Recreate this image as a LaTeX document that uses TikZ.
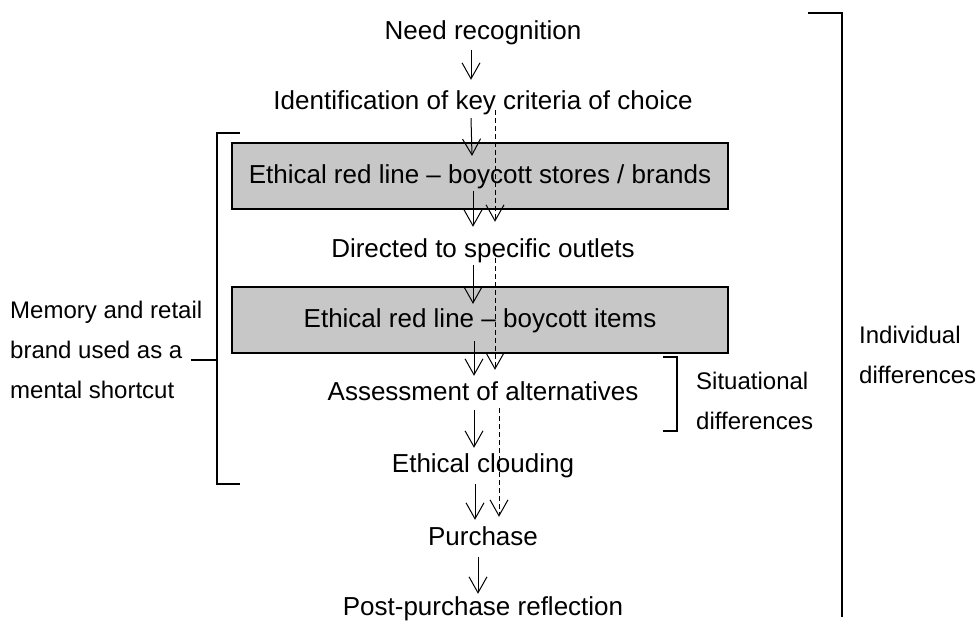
\documentclass[tikz,border=0pt]{standalone}
\usepackage{fontspec}
\setmainfont{Liberation Sans}
\usetikzlibrary{arrows.meta,calc}
\begin{document}
\begin{tikzpicture}[x=1pt,y=-1pt,
  main/.style={font=\fontsize{26}{31}\selectfont, inner sep=0pt, text height=19pt, text depth=5pt},
  side/.style={font=\fontsize{24}{29}\selectfont, inner sep=0pt, text height=17pt, text depth=5pt, anchor=west},
  boxn/.style={main, draw, line width=2.2pt, fill=black!22, minimum width=496pt, minimum height=66pt},
  arr/.style={line width=1pt, -{Straight Barb[length=16pt,width=18pt]}},
  darr/.style={arr, dash pattern=on 5pt off 3pt},
  brk/.style={line width=1.8pt}]
\useasboundingbox (0,0) rectangle (976,625);
% main column
\node[main] (need) at (483,32) {Need recognition};
\node[main] (ident) at (483,102) {Identification of key criteria of choice};
\node[boxn] (box1) at (480,176) {Ethical red line – boycott stores / brands};
\node[main] (dir) at (483,250) {Directed to specific outlets};
\node[boxn] (box2) at (480,320) {Ethical red line – boycott items};
\node[main] (assess) at (483,393) {Assessment of alternatives};
\node[main] (cloud) at (483,465) {Ethical clouding};
\node[main] (purch) at (483,538) {Purchase};
\node[main] (post) at (483,608) {Post-purchase reflection};
% solid arrows
\draw[arr] ($(need.south)+(-12,6)$) -- ($(ident.north)+(-12,-10)$);
\draw[arr] ($(ident.south)+(-12,4)$) -- ($(box1.north)+(-8,14)$);
\draw[arr] ($(box1.south)+(-7,-19)$) -- ($(dir.north)+(-10,-11)$);
\draw[arr] ($(dir.south)+(-10,3)$) -- ($(box2.north)+(-7,18)$);
\draw[arr] ($(box2.south)+(-6,-13)$) -- ($(assess.north)+(-9,-5)$);
\draw[arr] ($(assess.south)+(-9,5)$) -- ($(cloud.north)+(-9,-5)$);
\draw[arr] ($(cloud.south)+(-8,7)$) -- ($(purch.north)+(-8,-6)$);
\draw[arr] ($(purch.south)+(-5,7)$) -- ($(post.north)+(-5,-2)$);
% dashed arrows
\draw[darr] ($(ident.center)+(12,8)$) -- ($(dir.north)+(12,-16)$);
\draw[darr] ($(dir.center)+(12,8)$) -- ($(assess.north)+(12,-11)$);
\draw[darr] ($(assess.south)+(16,3)$) -- ($(purch.north)+(16,-9)$);
% left bracket
\coordinate (lbt) at (240,133);
\coordinate (lbb) at (240,484);
\draw[brk] (lbt) -- (217,133) -- (217,484) -- (lbb);
\node[side] (mem1) at (10,312) {Memory and retail};
\node[side] (mem2) at (10,352) {brand used as a};
\node[side] (mem3) at (10,392) {mental shortcut};
\draw[brk] ($(mem2.east)+(8,8)$) -- (217,360);
% situational bracket
\draw[brk] (663,357) -- (677,357) -- (677,431) -- (663,431);
\node[side] (sit1) at (696,383) {Situational};
\node[side] (sit2) at (696,423) {differences};
% individual bracket
\draw[brk] (808,13) -- (842,13) -- (842,617);
\node[side] (ind1) at (859,337) {Individual};
\node[side] (ind2) at (859,377) {differences};
\end{tikzpicture}
\end{document}
